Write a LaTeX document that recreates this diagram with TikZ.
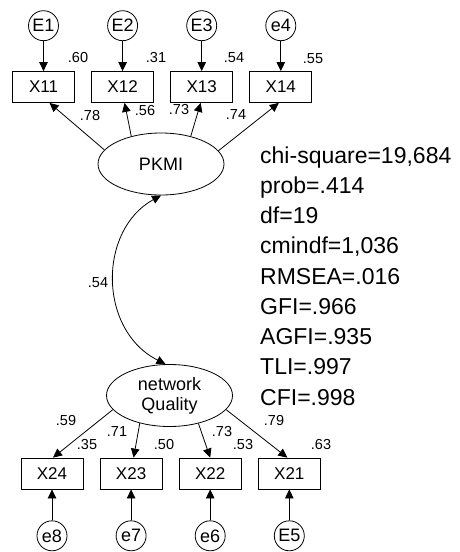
\documentclass[tikz,border=0pt]{standalone}
\usepackage{fontspec}
\setmainfont{Liberation Sans}
\usetikzlibrary{shapes.geometric, arrows.meta, positioning}

\begin{document}
\begin{tikzpicture}[x=1pt, y=1pt,
      box/.style={rectangle, draw, line width=0.8pt,
                  minimum width=62pt, minimum height=31pt, inner sep=0pt,
                  font=\fontsize{17}{19}\selectfont},
      lat/.style={ellipse, draw, line width=0.8pt,
                  minimum width=126pt, minimum height=62pt, inner sep=0pt,
                  align=center, font=\fontsize{18}{20}\selectfont},
      err/.style={circle, draw, line width=0.8pt, minimum size=30pt,
                  inner sep=0pt, font=\fontsize{18}{20}\selectfont},
      lbl/.style={inner sep=0pt, font=\fontsize{14.5}{16}\selectfont},
      arr/.style={-{Triangle[length=9pt,width=8.5pt]}, line width=0.8pt},
      node distance=31pt and 16.3pt
    ]
    \useasboundingbox (0,0) rectangle (460,-552);

    % top measurement model
    \node[box] (x11) at (43.5,-87) {X11};
    \node[box, right=of x11] (x12) {X12};
    \node[box, right=of x12] (x13) {X13};
    \node[box, right=of x13] (x14) {X14};
    \node[err, above=30pt of x11] (e1) {E1};
    \node[err, above=30pt of x12] (e2) {E2};
    \node[err, above=30pt of x13] (e3) {E3};
    \node[err, above=30pt of x14] (e4) {e4};
    \node[lat] (pkmi) at (161,-164) {PKMI};

    % bottom measurement model
    \node[lat] (net) at (169.5,-395.5) {network\\Quality};
    \node[box] (x24) at (52,-473.5) {X24};
    \node[box, right=of x24] (x23) {X23};
    \node[box, right=of x23] (x22) {X22};
    \node[box, right=of x22] (x21) {X21};
    \node[err, below=31pt of x24] (e8) {e8};
    \node[err, below=31pt of x23] (e7) {e7};
    \node[err, below=31pt of x22] (e6) {e6};
    \node[err, below=31pt of x21] (e5) {E5};

    \draw[arr] (e1) -- (x11);
    \draw[arr] (e2) -- (x12);
    \draw[arr] (e3) -- (x13);
    \draw[arr] (e4) -- (x14);
    \draw[arr] (pkmi.166) -- ([xshift=6pt]x11.south);
    \draw[arr] (pkmi.137) -- ([xshift=2pt]x12.south);
    \draw[arr] (pkmi.43)  -- ([xshift=-1pt]x13.south);
    \draw[arr] (pkmi.13)  -- ([xshift=-2pt]x14.south);

    \draw[arr] (net.194) -- ([xshift=1pt]x24.north);
    \draw[arr] (net.223) -- ([xshift=2.5pt]x23.north);
    \draw[arr] (net.316) -- (x22.north);
    \draw[arr] (net.346) -- ([xshift=-2pt]x21.north);
    \draw[arr] (e8) -- (x24);
    \draw[arr] (e7) -- (x23);
    \draw[arr] (e6) -- (x22);
    \draw[arr] (e5) -- (x21);

    % covariance
    \draw[arr, {Triangle[length=9pt,width=8.5pt]}-{Triangle[length=9pt,width=8.5pt]}]
      (pkmi.south) .. controls (98,-230) and (98,-330) .. ([xshift=-4pt]net.north);
    \node[lbl] (cov) at (98,-283) {.54};

    % estimates
    \node[lbl] (r11) at (78,-58) {.60};
    \node[lbl] (r12) at (156,-58) {.31};
    \node[lbl] (r13) at (234,-58) {.54};
    \node[lbl] (r14) at (313,-59) {.55};
    \node[lbl] (l11) at (90,-116) {.78};
    \node[lbl] (l12) at (145,-111) {.56};
    \node[lbl] (l13) at (179,-110) {.73};
    \node[lbl] (l14) at (236,-115) {.74};
    \node[lbl] (l24) at (66,-421) {.59};
    \node[lbl] (r24) at (87,-445) {.35};
    \node[lbl] (l23) at (117,-432) {.71};
    \node[lbl] (r23) at (164,-445) {.50};
    \node[lbl] (l22) at (222,-432) {.73};
    \node[lbl] (r22) at (243,-445) {.53};
    \node[lbl] (l21) at (274,-421) {.79};
    \node[lbl] (r21) at (321,-445) {.63};

    % fit indices
    \foreach \txt [count=\i] in {{chi-square=19,684}, prob=.414, df=19,
        {cmindf=1,036}, RMSEA=.016, GFI=.966, AGFI=.935, TLI=.997, CFI=.998}
      \node[inner sep=0pt, anchor=base west, font=\fontsize{23}{28}\selectfont]
        (fit\i) at (260,{-163-30.25*(\i-1)}) {\txt};
  \end{tikzpicture}
\end{document}
